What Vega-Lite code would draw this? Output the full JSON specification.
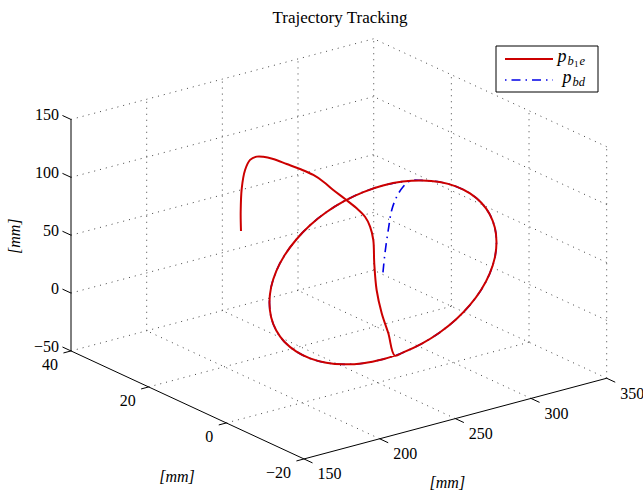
{
  "$schema": "https://vega.github.io/schema/vega-lite/v6.json",
  "width": 643,
  "height": 490,
  "autosize": "none",
  "padding": 0,
  "background": "white",
  "config": {"view": {"stroke": null}, "text": {"font": "Liberation Serif"}},
  "datasets": {
    "one": [{}],
    "curve": [
      {"s":"d","i":0,"X":253.5,"Y":0,"Z":44},
      {"s":"d","i":1,"X":254.8,"Y":0,"Z":60.0},
      {"s":"d","i":2,"X":257.0,"Y":0,"Z":79.4},
      {"s":"d","i":3,"X":259.3,"Y":0,"Z":95.9},
      {"s":"d","i":4,"X":262.6,"Y":0,"Z":106.2},
      {"s":"d","i":5,"X":266.7,"Y":0,"Z":113.2},
      {"s":"d","i":6,"X":271.6,"Y":0,"Z":116.8},
      {"s":"d","i":7,"X":279.2,"Y":0,"Z":114.5},
      {"s":"d","i":8,"X":291.0,"Y":0,"Z":109.0},
      {"s":"d","i":9,"X":301.7,"Y":0,"Z":101.5},
      {"s":"d","i":10,"X":311.0,"Y":0,"Z":92.2},
      {"s":"d","i":11,"X":318.5,"Y":0,"Z":81.5},
      {"s":"d","i":12,"X":324.0,"Y":0,"Z":69.7},
      {"s":"d","i":13,"X":327.4,"Y":0,"Z":57.0},
      {"s":"d","i":14,"X":328.5,"Y":0,"Z":44.0},
      {"s":"d","i":15,"X":327.4,"Y":0,"Z":31.0},
      {"s":"d","i":16,"X":324.0,"Y":0,"Z":18.3},
      {"s":"d","i":17,"X":318.5,"Y":0,"Z":6.5},
      {"s":"d","i":18,"X":311.0,"Y":0,"Z":-4.2},
      {"s":"d","i":19,"X":301.7,"Y":0,"Z":-13.5},
      {"s":"d","i":20,"X":291.0,"Y":0,"Z":-21.0},
      {"s":"d","i":21,"X":279.2,"Y":0,"Z":-26.5},
      {"s":"d","i":22,"X":266.5,"Y":0,"Z":-29.9},
      {"s":"d","i":23,"X":253.5,"Y":0,"Z":-31.0},
      {"s":"d","i":24,"X":240.5,"Y":0,"Z":-29.9},
      {"s":"d","i":25,"X":227.8,"Y":0,"Z":-26.5},
      {"s":"d","i":26,"X":216.0,"Y":0,"Z":-21.0},
      {"s":"d","i":27,"X":205.3,"Y":0,"Z":-13.5},
      {"s":"d","i":28,"X":196.1,"Y":0,"Z":-4.2},
      {"s":"d","i":29,"X":188.5,"Y":0,"Z":6.5},
      {"s":"d","i":30,"X":183.0,"Y":0,"Z":18.3},
      {"s":"d","i":31,"X":179.6,"Y":0,"Z":31.0},
      {"s":"d","i":32,"X":178.5,"Y":0,"Z":44.0},
      {"s":"d","i":33,"X":179.6,"Y":0,"Z":57.0},
      {"s":"d","i":34,"X":183.0,"Y":0,"Z":69.7},
      {"s":"d","i":35,"X":188.5,"Y":0,"Z":81.5},
      {"s":"d","i":36,"X":196.1,"Y":0,"Z":92.2},
      {"s":"d","i":37,"X":205.3,"Y":0,"Z":101.5},
      {"s":"d","i":38,"X":216.0,"Y":0,"Z":109.0},
      {"s":"d","i":39,"X":227.8,"Y":0,"Z":114.5},
      {"s":"d","i":40,"X":240.5,"Y":0,"Z":117.9},
      {"s":"d","i":41,"X":253.5,"Y":0,"Z":119.0},
      {"s":"d","i":42,"X":266.5,"Y":0,"Z":117.9},
      {"s":"d","i":43,"X":271.6,"Y":0,"Z":116.8},
      {"s":"a","i":0,"X":211.0,"Y":20,"Z":63.5},
      {"s":"a","i":1,"X":210.8,"Y":20,"Z":80.2},
      {"s":"a","i":2,"X":211.5,"Y":20,"Z":100.2},
      {"s":"a","i":3,"X":213.7,"Y":20,"Z":115.2},
      {"s":"a","i":4,"X":217.0,"Y":20,"Z":122.8},
      {"s":"a","i":5,"X":221.4,"Y":20,"Z":124.1},
      {"s":"a","i":6,"X":225.7,"Y":20,"Z":122.5},
      {"s":"a","i":7,"X":232.3,"Y":20,"Z":118.2},
      {"s":"a","i":8,"X":241.2,"Y":20,"Z":110.8},
      {"s":"a","i":9,"X":250.0,"Y":20,"Z":103.4},
      {"s":"a","i":10,"X":258.8,"Y":20,"Z":95.2},
      {"s":"a","i":11,"X":260.3,"Y":18,"Z":92.0},
      {"s":"a","i":12,"X":261.7,"Y":16,"Z":87.4},
      {"s":"a","i":13,"X":264.4,"Y":14,"Z":81.8},
      {"s":"a","i":14,"X":266.9,"Y":12,"Z":76.0},
      {"s":"a","i":15,"X":267.3,"Y":10,"Z":71.7},
      {"s":"a","i":16,"X":265.5,"Y":8,"Z":66.9},
      {"s":"a","i":17,"X":262.5,"Y":6,"Z":59.5},
      {"s":"a","i":18,"X":258.0,"Y":4,"Z":44.1},
      {"s":"a","i":19,"X":257.0,"Y":3,"Z":22.9},
      {"s":"a","i":20,"X":257.8,"Y":2,"Z":4.1},
      {"s":"a","i":21,"X":259.6,"Y":1,"Z":-12.3},
      {"s":"a","i":22,"X":261.3,"Y":0,"Z":-30.6},
      {"s":"a","i":23,"X":266.5,"Y":0,"Z":-29.9},
      {"s":"a","i":24,"X":279.2,"Y":0,"Z":-26.5},
      {"s":"a","i":25,"X":291.0,"Y":0,"Z":-21.0},
      {"s":"a","i":26,"X":301.7,"Y":0,"Z":-13.5},
      {"s":"a","i":27,"X":311.0,"Y":0,"Z":-4.2},
      {"s":"a","i":28,"X":318.5,"Y":0,"Z":6.5},
      {"s":"a","i":29,"X":324.0,"Y":0,"Z":18.3},
      {"s":"a","i":30,"X":327.4,"Y":0,"Z":31.0},
      {"s":"a","i":31,"X":328.5,"Y":0,"Z":44.0},
      {"s":"a","i":32,"X":327.4,"Y":0,"Z":57.0},
      {"s":"a","i":33,"X":324.0,"Y":0,"Z":69.7},
      {"s":"a","i":34,"X":318.5,"Y":0,"Z":81.5},
      {"s":"a","i":35,"X":311.0,"Y":0,"Z":92.2},
      {"s":"a","i":36,"X":301.7,"Y":0,"Z":101.5},
      {"s":"a","i":37,"X":291.0,"Y":0,"Z":109.0},
      {"s":"a","i":38,"X":279.2,"Y":0,"Z":114.5},
      {"s":"a","i":39,"X":266.5,"Y":0,"Z":117.9},
      {"s":"a","i":40,"X":253.5,"Y":0,"Z":119.0},
      {"s":"a","i":41,"X":240.5,"Y":0,"Z":117.9},
      {"s":"a","i":42,"X":227.8,"Y":0,"Z":114.5},
      {"s":"a","i":43,"X":216.0,"Y":0,"Z":109.0},
      {"s":"a","i":44,"X":205.3,"Y":0,"Z":101.5},
      {"s":"a","i":45,"X":196.1,"Y":0,"Z":92.2},
      {"s":"a","i":46,"X":188.5,"Y":0,"Z":81.5},
      {"s":"a","i":47,"X":183.0,"Y":0,"Z":69.7},
      {"s":"a","i":48,"X":179.6,"Y":0,"Z":57.0},
      {"s":"a","i":49,"X":178.5,"Y":0,"Z":44.0},
      {"s":"a","i":50,"X":179.6,"Y":0,"Z":31.0},
      {"s":"a","i":51,"X":183.0,"Y":0,"Z":18.3},
      {"s":"a","i":52,"X":188.5,"Y":0,"Z":6.5},
      {"s":"a","i":53,"X":196.1,"Y":0,"Z":-4.2},
      {"s":"a","i":54,"X":205.3,"Y":0,"Z":-13.5},
      {"s":"a","i":55,"X":216.0,"Y":0,"Z":-21.0},
      {"s":"a","i":56,"X":227.8,"Y":0,"Z":-26.5},
      {"s":"a","i":57,"X":240.5,"Y":0,"Z":-29.9},
      {"s":"a","i":58,"X":253.5,"Y":0,"Z":-31.0},
      {"s":"a","i":59,"X":261.3,"Y":0,"Z":-30.6}
    ],
    "segs": [
      {"k":"g","X1":200,"Y1":-20,"Z1":-50,"X2":200,"Y2":40,"Z2":-50},
      {"k":"g","X1":250,"Y1":-20,"Z1":-50,"X2":250,"Y2":40,"Z2":-50},
      {"k":"g","X1":300,"Y1":-20,"Z1":-50,"X2":300,"Y2":40,"Z2":-50},
      {"k":"g","X1":350,"Y1":-20,"Z1":-50,"X2":350,"Y2":40,"Z2":-50},
      {"k":"g","X1":150,"Y1":0,"Z1":-50,"X2":350,"Y2":0,"Z2":-50},
      {"k":"g","X1":150,"Y1":20,"Z1":-50,"X2":350,"Y2":20,"Z2":-50},
      {"k":"g","X1":150,"Y1":40,"Z1":-50,"X2":350,"Y2":40,"Z2":-50},
      {"k":"g","X1":150,"Y1":40,"Z1":0,"X2":350,"Y2":40,"Z2":0},
      {"k":"g","X1":150,"Y1":40,"Z1":50,"X2":350,"Y2":40,"Z2":50},
      {"k":"g","X1":150,"Y1":40,"Z1":100,"X2":350,"Y2":40,"Z2":100},
      {"k":"g","X1":150,"Y1":40,"Z1":150,"X2":350,"Y2":40,"Z2":150},
      {"k":"g","X1":200,"Y1":40,"Z1":-50,"X2":200,"Y2":40,"Z2":150},
      {"k":"g","X1":250,"Y1":40,"Z1":-50,"X2":250,"Y2":40,"Z2":150},
      {"k":"g","X1":300,"Y1":40,"Z1":-50,"X2":300,"Y2":40,"Z2":150},
      {"k":"g","X1":350,"Y1":40,"Z1":-50,"X2":350,"Y2":40,"Z2":150},
      {"k":"g","X1":350,"Y1":-20,"Z1":0,"X2":350,"Y2":40,"Z2":0},
      {"k":"g","X1":350,"Y1":-20,"Z1":50,"X2":350,"Y2":40,"Z2":50},
      {"k":"g","X1":350,"Y1":-20,"Z1":100,"X2":350,"Y2":40,"Z2":100},
      {"k":"g","X1":350,"Y1":-20,"Z1":150,"X2":350,"Y2":40,"Z2":150},
      {"k":"g","X1":350,"Y1":-20,"Z1":-50,"X2":350,"Y2":-20,"Z2":150},
      {"k":"g","X1":350,"Y1":0,"Z1":-50,"X2":350,"Y2":0,"Z2":150},
      {"k":"g","X1":350,"Y1":20,"Z1":-50,"X2":350,"Y2":20,"Z2":150},
      {"k":"a","X1":150,"Y1":40,"Z1":-50,"X2":150,"Y2":40,"Z2":150},
      {"k":"a","X1":150,"Y1":-20,"Z1":-50,"X2":150,"Y2":40,"Z2":-50},
      {"k":"a","X1":150,"Y1":-20,"Z1":-50,"X2":350,"Y2":-20,"Z2":-50},
      {"k":"a","X1":150,"Y1":40,"Z1":-50,"X2":150,"Y2":42.2,"Z2":-50},
      {"k":"a","X1":150,"Y1":40,"Z1":0,"X2":150,"Y2":42.2,"Z2":0},
      {"k":"a","X1":150,"Y1":40,"Z1":50,"X2":150,"Y2":42.2,"Z2":50},
      {"k":"a","X1":150,"Y1":40,"Z1":100,"X2":150,"Y2":42.2,"Z2":100},
      {"k":"a","X1":150,"Y1":40,"Z1":150,"X2":150,"Y2":42.2,"Z2":150},
      {"k":"a","X1":150,"Y1":-20,"Z1":-50,"X2":145,"Y2":-20,"Z2":-50},
      {"k":"a","X1":150,"Y1":0,"Z1":-50,"X2":145,"Y2":0,"Z2":-50},
      {"k":"a","X1":150,"Y1":20,"Z1":-50,"X2":145,"Y2":20,"Z2":-50},
      {"k":"a","X1":150,"Y1":40,"Z1":-50,"X2":145,"Y2":40,"Z2":-50},
      {"k":"a","X1":150,"Y1":-20,"Z1":-50,"X2":150,"Y2":-22.2,"Z2":-50},
      {"k":"a","X1":200,"Y1":-20,"Z1":-50,"X2":200,"Y2":-22.2,"Z2":-50},
      {"k":"a","X1":250,"Y1":-20,"Z1":-50,"X2":250,"Y2":-22.2,"Z2":-50},
      {"k":"a","X1":300,"Y1":-20,"Z1":-50,"X2":300,"Y2":-22.2,"Z2":-50},
      {"k":"a","X1":350,"Y1":-20,"Z1":-50,"X2":350,"Y2":-22.2,"Z2":-50}
    ],
    "labs": [
      {"ax":"z","t":"−50","X":150,"Y":40,"Z":-50},
      {"ax":"z","t":"0","X":150,"Y":40,"Z":0},
      {"ax":"z","t":"50","X":150,"Y":40,"Z":50},
      {"ax":"z","t":"100","X":150,"Y":40,"Z":100},
      {"ax":"z","t":"150","X":150,"Y":40,"Z":150},
      {"ax":"y","t":"−20","X":150,"Y":-20,"Z":-50},
      {"ax":"y","t":"0","X":150,"Y":0,"Z":-50},
      {"ax":"y","t":"20","X":150,"Y":20,"Z":-50},
      {"ax":"y","t":"40","X":150,"Y":40,"Z":-50},
      {"ax":"x","t":"150","X":150,"Y":-20,"Z":-50},
      {"ax":"x","t":"200","X":200,"Y":-20,"Z":-50},
      {"ax":"x","t":"250","X":250,"Y":-20,"Z":-50},
      {"ax":"x","t":"300","X":300,"Y":-20,"Z":-50},
      {"ax":"x","t":"350","X":350,"Y":-20,"Z":-50},
      {"ax":"xt","t":"[mm]","X":250,"Y":-20,"Z":-50},
      {"ax":"yt","t":"[mm]","X":150,"Y":10,"Z":-50},
      {"ax":"zt","t":"[mm]","X":150,"Y":40,"Z":50}
    ]
  },
  "layer": [
    {
      "data": {"name": "segs"},
      "transform": [
        {"filter": "datum.k == 'g'"},
        {"calculate": "1.5135*datum.X1 - 3.883*datum.Y1 - 0.7", "as": "u"},
        {"calculate": "425.6 - 0.4035*datum.X1 - 1.8*datum.Y1 - 1.1575*datum.Z1", "as": "v"},
        {"calculate": "1.5135*datum.X2 - 3.883*datum.Y2 - 0.7", "as": "u2"},
        {"calculate": "425.6 - 0.4035*datum.X2 - 1.8*datum.Y2 - 1.1575*datum.Z2", "as": "v2"}
      ],
      "mark": {"type": "rule", "stroke": "#444444", "strokeWidth": 1, "strokeDash": [1, 5]},
      "encoding": {
        "x": {"field": "u", "type": "quantitative", "scale": {"domain": [0, 643]}, "axis": null},
        "y": {"field": "v", "type": "quantitative", "scale": {"domain": [0, 490], "reverse": true}, "axis": null},
        "x2": {"field": "u2"},
        "y2": {"field": "v2"}
      }
    },
    {
      "data": {"name": "segs"},
      "transform": [
        {"filter": "datum.k == 'a'"},
        {"calculate": "1.5135*datum.X1 - 3.883*datum.Y1 - 0.7", "as": "u"},
        {"calculate": "425.6 - 0.4035*datum.X1 - 1.8*datum.Y1 - 1.1575*datum.Z1", "as": "v"},
        {"calculate": "1.5135*datum.X2 - 3.883*datum.Y2 - 0.7", "as": "u2"},
        {"calculate": "425.6 - 0.4035*datum.X2 - 1.8*datum.Y2 - 1.1575*datum.Z2", "as": "v2"}
      ],
      "mark": {"type": "rule", "stroke": "#000000", "strokeWidth": 1},
      "encoding": {
        "x": {"field": "u", "type": "quantitative", "scale": {"domain": [0, 643]}, "axis": null},
        "y": {"field": "v", "type": "quantitative", "scale": {"domain": [0, 490], "reverse": true}, "axis": null},
        "x2": {"field": "u2"},
        "y2": {"field": "v2"}
      }
    },
    {
      "data": {"name": "curve"},
      "transform": [
        {"filter": "datum.s == 'd'"},
        {"calculate": "1.5135*datum.X - 3.883*datum.Y - 0.7", "as": "u"},
        {"calculate": "425.6 - 0.4035*datum.X - 1.8*datum.Y - 1.1575*datum.Z", "as": "v"}
      ],
      "mark": {"type": "line", "stroke": "#0000e6", "strokeWidth": 1.6, "strokeDash": [9, 5, 1.5, 5], "interpolate": "catmull-rom"},
      "encoding": {
        "x": {"field": "u", "type": "quantitative", "scale": {"domain": [0, 643]}, "axis": null},
        "y": {"field": "v", "type": "quantitative", "scale": {"domain": [0, 490], "reverse": true}, "axis": null},
        "order": {"field": "i", "type": "quantitative"}
      }
    },
    {
      "data": {"name": "curve"},
      "transform": [
        {"filter": "datum.s == 'a'"},
        {"calculate": "1.5135*datum.X - 3.883*datum.Y - 0.7", "as": "u"},
        {"calculate": "425.6 - 0.4035*datum.X - 1.8*datum.Y - 1.1575*datum.Z", "as": "v"}
      ],
      "mark": {"type": "line", "stroke": "#cc0000", "strokeWidth": 2, "interpolate": "catmull-rom"},
      "encoding": {
        "x": {"field": "u", "type": "quantitative", "scale": {"domain": [0, 643]}, "axis": null},
        "y": {"field": "v", "type": "quantitative", "scale": {"domain": [0, 490], "reverse": true}, "axis": null},
        "order": {"field": "i", "type": "quantitative"}
      }
    },
    {
      "data": {"name": "labs"},
      "transform": [
        {"filter": "datum.ax == 'z'"},
        {"calculate": "1.5135*datum.X - 3.883*datum.Y - 0.7", "as": "u"},
        {"calculate": "425.6 - 0.4035*datum.X - 1.8*datum.Y - 1.1575*datum.Z", "as": "v"}
      ],
      "mark": {"type": "text", "align": "right", "baseline": "middle", "dx": -12, "dy": -4, "font": "Liberation Serif", "fontSize": 16, "color": "black"},
      "encoding": {
        "x": {"field": "u", "type": "quantitative", "scale": {"domain": [0, 643]}, "axis": null},
        "y": {"field": "v", "type": "quantitative", "scale": {"domain": [0, 490], "reverse": true}, "axis": null},
        "text": {"field": "t"}
      }
    },
    {
      "data": {"name": "labs"},
      "transform": [
        {"filter": "datum.ax == 'y'"},
        {"calculate": "1.5135*datum.X - 3.883*datum.Y - 0.7", "as": "u"},
        {"calculate": "425.6 - 0.4035*datum.X - 1.8*datum.Y - 1.1575*datum.Z", "as": "v"}
      ],
      "mark": {"type": "text", "align": "right", "baseline": "middle", "dx": -13, "dy": 14.5, "font": "Liberation Serif", "fontSize": 16, "color": "black"},
      "encoding": {
        "x": {"field": "u", "type": "quantitative", "scale": {"domain": [0, 643]}, "axis": null},
        "y": {"field": "v", "type": "quantitative", "scale": {"domain": [0, 490], "reverse": true}, "axis": null},
        "text": {"field": "t"}
      }
    },
    {
      "data": {"name": "labs"},
      "transform": [
        {"filter": "datum.ax == 'x'"},
        {"calculate": "1.5135*datum.X - 3.883*datum.Y - 0.7", "as": "u"},
        {"calculate": "425.6 - 0.4035*datum.X - 1.8*datum.Y - 1.1575*datum.Z", "as": "v"}
      ],
      "mark": {"type": "text", "align": "left", "baseline": "middle", "dx": 13.5, "dy": 15.5, "font": "Liberation Serif", "fontSize": 16, "color": "black"},
      "encoding": {
        "x": {"field": "u", "type": "quantitative", "scale": {"domain": [0, 643]}, "axis": null},
        "y": {"field": "v", "type": "quantitative", "scale": {"domain": [0, 490], "reverse": true}, "axis": null},
        "text": {"field": "t"}
      }
    },
    {
      "data": {"name": "labs"},
      "transform": [
        {"filter": "datum.ax == 'xt'"},
        {"calculate": "1.5135*datum.X - 3.883*datum.Y - 0.7", "as": "u"},
        {"calculate": "425.6 - 0.4035*datum.X - 1.8*datum.Y - 1.1575*datum.Z", "as": "v"}
      ],
      "mark": {"type": "text", "align": "center", "baseline": "middle", "dx": -8, "dy": 64, "font": "Liberation Serif", "fontStyle": "italic", "fontSize": 16, "color": "black"},
      "encoding": {
        "x": {"field": "u", "type": "quantitative", "scale": {"domain": [0, 643]}, "axis": null},
        "y": {"field": "v", "type": "quantitative", "scale": {"domain": [0, 490], "reverse": true}, "axis": null},
        "text": {"field": "t"}
      }
    },
    {
      "data": {"name": "labs"},
      "transform": [
        {"filter": "datum.ax == 'yt'"},
        {"calculate": "1.5135*datum.X - 3.883*datum.Y - 0.7", "as": "u"},
        {"calculate": "425.6 - 0.4035*datum.X - 1.8*datum.Y - 1.1575*datum.Z", "as": "v"}
      ],
      "mark": {"type": "text", "align": "center", "baseline": "middle", "dx": -10.5, "dy": 72, "font": "Liberation Serif", "fontStyle": "italic", "fontSize": 16, "color": "black"},
      "encoding": {
        "x": {"field": "u", "type": "quantitative", "scale": {"domain": [0, 643]}, "axis": null},
        "y": {"field": "v", "type": "quantitative", "scale": {"domain": [0, 490], "reverse": true}, "axis": null},
        "text": {"field": "t"}
      }
    },
    {
      "data": {"name": "labs"},
      "transform": [
        {"filter": "datum.ax == 'zt'"},
        {"calculate": "1.5135*datum.X - 3.883*datum.Y - 0.7", "as": "u"},
        {"calculate": "425.6 - 0.4035*datum.X - 1.8*datum.Y - 1.1575*datum.Z", "as": "v"}
      ],
      "mark": {"type": "text", "align": "center", "baseline": "middle", "angle": 270, "dx": -1, "dy": -56, "font": "Liberation Serif", "fontStyle": "italic", "fontSize": 16, "color": "black"},
      "encoding": {
        "x": {"field": "u", "type": "quantitative", "scale": {"domain": [0, 643]}, "axis": null},
        "y": {"field": "v", "type": "quantitative", "scale": {"domain": [0, 490], "reverse": true}, "axis": null},
        "text": {"field": "t"}
      }
    },
    {
      "data": {"name": "one"},
      "mark": {"type": "text", "align": "center", "baseline": "middle", "font": "Liberation Serif", "fontSize": 17, "color": "black"},
      "encoding": {
        "x": {"datum": 340, "type": "quantitative", "scale": {"domain": [0, 643]}, "axis": null},
        "y": {"datum": 18, "type": "quantitative", "scale": {"domain": [0, 490], "reverse": true}, "axis": null},
        "text": {"value": "Trajectory Tracking"}
      }
    },
    {
      "data": {"name": "one"},
      "mark": {"type": "rect", "fill": "white", "stroke": "black", "strokeWidth": 1},
      "encoding": {
        "x": {"datum": 496, "type": "quantitative", "scale": {"domain": [0, 643]}, "axis": null},
        "x2": {"datum": 598},
        "y": {"datum": 46, "type": "quantitative", "scale": {"domain": [0, 490], "reverse": true}, "axis": null},
        "y2": {"datum": 92}
      }
    },
    {
      "data": {"name": "one"},
      "mark": {"type": "rule", "stroke": "#cc0000", "strokeWidth": 1.8},
      "encoding": {
        "x": {"datum": 505, "type": "quantitative", "scale": {"domain": [0, 643]}, "axis": null},
        "x2": {"datum": 553},
        "y": {"datum": 59, "type": "quantitative", "scale": {"domain": [0, 490], "reverse": true}, "axis": null}
      }
    },
    {
      "data": {"name": "one"},
      "mark": {"type": "rule", "stroke": "#0000e6", "strokeWidth": 1.6, "strokeDash": [1.5, 5, 9, 5]},
      "encoding": {
        "x": {"datum": 505, "type": "quantitative", "scale": {"domain": [0, 643]}, "axis": null},
        "x2": {"datum": 553},
        "y": {"datum": 80, "type": "quantitative", "scale": {"domain": [0, 490], "reverse": true}, "axis": null}
      }
    },
    {
      "data": {"name": "one"},
      "mark": {"type": "text", "align": "left", "baseline": "alphabetic", "font": "Liberation Serif", "fontStyle": "italic", "fontSize": 18, "color": "black"},
      "encoding": {
        "x": {"datum": 557.5, "type": "quantitative", "scale": {"domain": [0, 643]}, "axis": null},
        "y": {"datum": 61.5, "type": "quantitative", "scale": {"domain": [0, 490], "reverse": true}, "axis": null},
        "text": {"value": "p"}
      }
    },
    {
      "data": {"name": "one"},
      "mark": {"type": "text", "align": "left", "baseline": "alphabetic", "font": "Liberation Serif", "fontStyle": "italic", "fontSize": 12.5, "color": "black"},
      "encoding": {
        "x": {"datum": 567.5, "type": "quantitative", "scale": {"domain": [0, 643]}, "axis": null},
        "y": {"datum": 64.5, "type": "quantitative", "scale": {"domain": [0, 490], "reverse": true}, "axis": null},
        "text": {"value": "b"}
      }
    },
    {
      "data": {"name": "one"},
      "mark": {"type": "text", "align": "left", "baseline": "alphabetic", "font": "Liberation Serif", "fontSize": 9, "color": "black"},
      "encoding": {
        "x": {"datum": 574, "type": "quantitative", "scale": {"domain": [0, 643]}, "axis": null},
        "y": {"datum": 67, "type": "quantitative", "scale": {"domain": [0, 490], "reverse": true}, "axis": null},
        "text": {"value": "1"}
      }
    },
    {
      "data": {"name": "one"},
      "mark": {"type": "text", "align": "left", "baseline": "alphabetic", "font": "Liberation Serif", "fontStyle": "italic", "fontSize": 12.5, "color": "black"},
      "encoding": {
        "x": {"datum": 579.5, "type": "quantitative", "scale": {"domain": [0, 643]}, "axis": null},
        "y": {"datum": 64.5, "type": "quantitative", "scale": {"domain": [0, 490], "reverse": true}, "axis": null},
        "text": {"value": "e"}
      }
    },
    {
      "data": {"name": "one"},
      "mark": {"type": "text", "align": "left", "baseline": "alphabetic", "font": "Liberation Serif", "fontStyle": "italic", "fontSize": 18, "color": "black"},
      "encoding": {
        "x": {"datum": 562.5, "type": "quantitative", "scale": {"domain": [0, 643]}, "axis": null},
        "y": {"datum": 83, "type": "quantitative", "scale": {"domain": [0, 490], "reverse": true}, "axis": null},
        "text": {"value": "p"}
      }
    },
    {
      "data": {"name": "one"},
      "mark": {"type": "text", "align": "left", "baseline": "alphabetic", "font": "Liberation Serif", "fontStyle": "italic", "fontSize": 12.5, "color": "black"},
      "encoding": {
        "x": {"datum": 572.5, "type": "quantitative", "scale": {"domain": [0, 643]}, "axis": null},
        "y": {"datum": 86, "type": "quantitative", "scale": {"domain": [0, 490], "reverse": true}, "axis": null},
        "text": {"value": "bd"}
      }
    }
  ]
}
